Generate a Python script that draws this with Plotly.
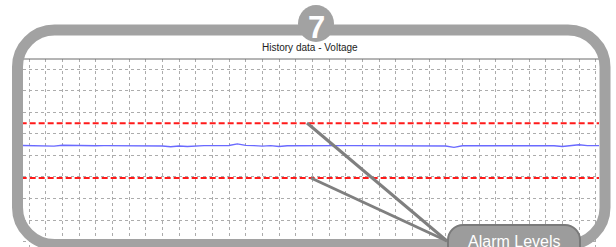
import plotly.graph_objects as go

# ---- data ----
time = [-0.5, 0.0, 0.5, 1.0, 1.5, 2.0, 2.5, 3.0, 3.5, 4.0, 4.5, 5.0, 5.5, 6.0, 6.5,
        7.0, 7.5, 8.0, 8.5, 9.0, 9.5, 10.0, 10.5, 11.0, 11.5, 12.0, 12.5, 13.0, 13.5,
        14.0, 14.5, 15.0, 15.5, 16.0, 16.5, 17.0, 17.5, 18.0, 18.5, 19.0, 19.5, 20.0,
        20.5, 21.0, 21.5, 22.0, 22.5, 23.0, 23.5, 24.0, 24.5, 25.0, 25.5, 26.0, 26.5,
        27.0, 27.5, 28.0, 28.5, 29.0, 29.5, 30.0, 30.5, 31.0, 31.5, 32.0, 32.5, 33.0,
        33.5, 34.0, 34.5]
voltage = [224.7, 224.7, 224.7, 224.65, 224.35, 224.75, 224.65, 224.6, 224.6, 224.55,
           224.6, 224.6, 224.6, 224.6, 224.6, 224.6, 224.55, 224.45, 224.1, 224.45,
           224.2, 224.5, 224.6, 224.6, 224.6, 224.65, 225.4, 224.7, 224.6, 224.35,
           224.6, 224.2, 224.55, 224.6, 224.6, 224.6, 224.6, 224.6, 224.6, 224.6,
           224.6, 224.6, 224.6, 224.6, 224.6, 224.6, 224.6, 224.6, 224.6, 224.6,
           224.55, 224.4, 223.8, 224.5, 224.6, 224.6, 224.6, 224.6, 224.6, 224.6,
           224.6, 224.6, 224.6, 224.6, 224.5, 224.2, 224.6, 225.0, 224.6, 224.6, 224.6]
alarm_high = 235.0
alarm_low = 209.5
title_text = "History data - Voltage"
callout_text = "Alarm Levels"
badge_text = "7"

W, H = 616, 247
L, R, T, B = 23, 17, 59, 0
PW, PH = W - L - R, H - T - B


def px(x):
    return (x - L) / PW


def py(y):
    return (H - B - y) / PH


def rrect(x0, y0, x1, y1, r):
    k = 0.5523 * r
    pts = [
        f"M{px(x0 + r)},{py(y0)}",
        f"L{px(x1 - r)},{py(y0)}",
        f"C{px(x1 - r + k)},{py(y0)} {px(x1)},{py(y0 + r - k)} {px(x1)},{py(y0 + r)}",
        f"L{px(x1)},{py(y1 - r)}",
        f"C{px(x1)},{py(y1 - r + k)} {px(x1 - r + k)},{py(y1)} {px(x1 - r)},{py(y1)}",
        f"L{px(x0 + r)},{py(y1)}",
        f"C{px(x0 + r - k)},{py(y1)} {px(x0)},{py(y1 - r + k)} {px(x0)},{py(y1 - r)}",
        f"L{px(x0)},{py(y0 + r)}",
        f"C{px(x0)},{py(y0 + r - k)} {px(x0 + r - k)},{py(y0)} {px(x0 + r)},{py(y0)}",
        "Z",
    ]
    return " ".join(pts)


fig = go.Figure()
x_ends = [min(time), max(time)]
fig.add_trace(go.Scatter(x=x_ends, y=[alarm_high, alarm_high], mode="lines",
                         line=dict(color="#ff1a1a", width=2, dash="6px,3px"),
                         hoverinfo="skip", showlegend=False))
fig.add_trace(go.Scatter(x=x_ends, y=[alarm_low, alarm_low], mode="lines",
                         line=dict(color="#ff1a1a", width=2, dash="6px,3px"),
                         hoverinfo="skip", showlegend=False))
fig.add_trace(go.Scatter(x=time, y=voltage, mode="lines",
                         line=dict(color="#6a6aff", width=1.4),
                         showlegend=False))

shapes = [
    # top border of the plot area
    dict(type="line", xref="paper", yref="paper", layer="above",
         x0=0, x1=1, y0=1, y1=1, line=dict(color="#6a6a6a", width=1)),
    # frame
    dict(type="path", xref="paper", yref="paper", layer="above",
         path=rrect(17.5, 30, 605, 244.5, 37),
         line=dict(color="#a2a2a2", width=11), fillcolor="rgba(0,0,0,0)"),
    # callout lines
    dict(type="line", xref="paper", yref="paper", layer="above",
         x0=px(307), y0=py(123), x1=px(447), y1=py(241),
         line=dict(color="#7f7f7f", width=3)),
    dict(type="line", xref="paper", yref="paper", layer="above",
         x0=px(311), y0=py(178), x1=px(447), y1=py(241),
         line=dict(color="#7f7f7f", width=3)),
    # pill
    dict(type="path", xref="paper", yref="paper", layer="above",
         path=rrect(448, 225, 580, 262, 15),
         line=dict(color="#7a7a7a", width=2), fillcolor="#9c9c9c"),
    # badge
    dict(type="circle", xref="paper", yref="paper", layer="above",
         x0=px(298), x1=px(334), y0=py(5), y1=py(42),
         line=dict(width=0), fillcolor="#a2a2a2"),
]

annotations = [
    dict(text=title_text, xref="paper", yref="paper", x=px(310), y=py(47),
         showarrow=False, xanchor="center", yanchor="middle",
         font=dict(family="Liberation Sans, Arial", size=10, color="#222222")),
    dict(text=f"<b>{badge_text}</b>", xref="paper", yref="paper", x=px(316), y=py(28),
         showarrow=False, xanchor="center", yanchor="middle",
         font=dict(family="Liberation Sans, Arial", size=31, color="#ffffff")),
    dict(text=callout_text, xref="paper", yref="paper", x=px(514), y=py(241),
         showarrow=False, xanchor="center", yanchor="middle",
         font=dict(family="Liberation Sans, Arial", size=16, color="#ffffff")),
]

fig.update_layout(
    width=W, height=H,
    margin=dict(l=L, r=R, t=T, b=B, pad=0),
    paper_bgcolor="white", plot_bgcolor="white",
    shapes=shapes, annotations=annotations,
    xaxis=dict(range=[-0.36, 34.2], dtick=1, tick0=0, showgrid=True,
               gridcolor="#acacac", griddash="3px,3px", gridwidth=1,
               showticklabels=False, ticks="", zeroline=False, showline=False),
    yaxis=dict(range=[177.44, 264.88], dtick=10, tick0=0, showgrid=True,
               gridcolor="#acacac", griddash="3px,3px", gridwidth=1,
               showticklabels=False, ticks="", zeroline=False, showline=False),
)

fig.write_html("out.html", config={"displayModeBar": False},
               post_script="document.body.style.margin='0px';document.body.style.overflow='hidden';")
